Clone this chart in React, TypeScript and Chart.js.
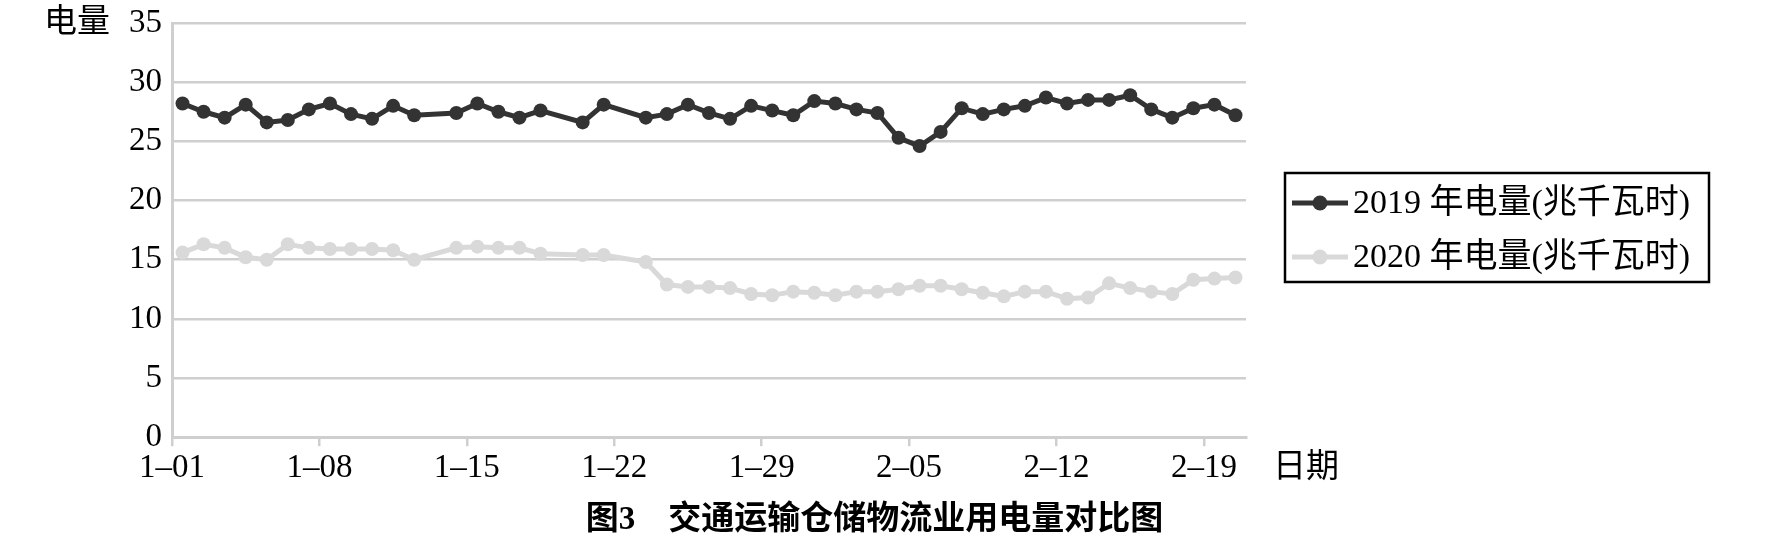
import { useEffect, useRef } from "react";
import { Chart, registerables } from "chart.js";

Chart.register(...registerables);

// ---- data ----
const DATES = [
  "1–01", "1–02", "1–03", "1–04", "1–05", "1–06", "1–07", "1–08", "1–09", "1–10",
  "1–11", "1–12", "1–13", "1–14", "1–15", "1–16", "1–17", "1–18", "1–19", "1–20",
  "1–21", "1–22", "1–23", "1–24", "1–25", "1–26", "1–27", "1–28", "1–29", "1–30",
  "1–31", "2–01", "2–02", "2–03", "2–04", "2–05", "2–06", "2–07", "2–08", "2–09",
  "2–10", "2–11", "2–12", "2–13", "2–14", "2–15", "2–16", "2–17", "2–18", "2–19",
  "2–20",
];

const SERIES_2019 = [
  28.2, 27.5, 27.0, 28.1, 26.6, 26.8, 27.7, 28.2, 27.3, 26.9,
  28.0, 27.2, null, 27.4, 28.2, 27.5, 27.0, 27.6, null, 26.6,
  28.1, null, 27.0, 27.3, 28.1, 27.4, 26.9, 28.0, 27.6, 27.2,
  28.4, 28.2, 27.7, 27.4, 25.3, 24.6, 25.8, 27.8, 27.3, 27.7,
  28.0, 28.7, 28.2, 28.5, 28.5, 28.9, 27.7, 27.0, 27.8, 28.1,
  27.2,
];

const SERIES_2020 = [
  15.6, 16.3, 16.0, 15.2, 15.0, 16.3, 16.0, 15.9, 15.9, 15.9,
  15.8, 15.0, null, 16.0, 16.1, 16.0, 16.0, 15.5, null, 15.4,
  15.4, null, 14.8, 12.9, 12.7, 12.7, 12.6, 12.1, 12.0, 12.3,
  12.2, 12.0, 12.3, 12.3, 12.5, 12.8, 12.8, 12.5, 12.2, 11.9,
  12.3, 12.3, 11.7, 11.8, 13.0, 12.6, 12.3, 12.1, 13.3, 13.4,
  13.5,
];

const LABEL_2019 = "2019 年电量(兆千瓦时)";
const LABEL_2020 = "2020 年电量(兆千瓦时)";
const Y_TITLE = "电量";
const X_TITLE = "日期";
const CHART_TITLE = "图3　交通运输仓储物流业用电量对比图";
const Y_MIN = 0;
const Y_MAX = 35;
const Y_STEP = 5;
const X_TICK_EVERY = 7;

// ---- styles ----
const FONT = '"Liberation Serif", "Noto Sans CJK SC", serif';
const COLOR_2019 = "#333333";
const COLOR_2020 = "#d9d9d9";
const GRID = "#cfcfcf";
const W = 1768;
const H = 541;

const overlayPlugin = {
  id: "overlayTexts",
  afterDraw(chart: any) {
    const { ctx, chartArea, scales } = chart;
    ctx.save();
    ctx.fillStyle = "#000";
    ctx.textBaseline = "middle";
    // y-axis name
    ctx.font = `33px ${FONT}`;
    ctx.textAlign = "right";
    ctx.fillText(Y_TITLE, chartArea.left - 62, scales.y.getPixelForValue(Y_MAX));
    // x-axis name
    ctx.textAlign = "left";
    ctx.fillText(X_TITLE, chartArea.right + 27, scales.x.top + 9 + 2 + 19.8);
    // legend
    const bx = chartArea.right + 39;
    const by = 173;
    const bw = 424;
    const bh = 109;
    ctx.lineWidth = 2.5;
    ctx.strokeStyle = "#000";
    ctx.strokeRect(bx, by, bw, bh);
    chart.data.datasets.forEach((ds: any, i: number) => {
      const cy = by + 30 + i * 54;
      ctx.strokeStyle = ds.borderColor;
      ctx.lineWidth = 5;
      ctx.beginPath();
      ctx.moveTo(bx + 7, cy);
      ctx.lineTo(bx + 63, cy);
      ctx.stroke();
      ctx.fillStyle = ds.borderColor;
      ctx.beginPath();
      ctx.arc(bx + 35, cy, 7.5, 0, Math.PI * 2);
      ctx.fill();
      ctx.fillStyle = "#000";
      ctx.font = `34px ${FONT}`;
      ctx.textAlign = "left";
      ctx.fillText(ds.label, bx + 68, cy + 1);
    });
    ctx.restore();
  },
};

export default function App() {
  const ref = useRef<HTMLCanvasElement | null>(null);

  useEffect(() => {
    if (!ref.current) return;
    const chart = new Chart(ref.current, {
      type: "line",
      data: {
        labels: DATES,
        datasets: [
          {
            label: LABEL_2019,
            data: SERIES_2019,
            borderColor: COLOR_2019,
            backgroundColor: COLOR_2019,
            pointBackgroundColor: COLOR_2019,
            pointBorderWidth: 0,
            pointRadius: 7,
            borderWidth: 5,
            spanGaps: true,
            tension: 0,
          },
          {
            label: LABEL_2020,
            data: SERIES_2020,
            borderColor: COLOR_2020,
            backgroundColor: COLOR_2020,
            pointBackgroundColor: COLOR_2020,
            pointBorderWidth: 0,
            pointRadius: 7,
            borderWidth: 5,
            spanGaps: true,
            tension: 0,
          },
        ],
      },
      options: {
        responsive: false,
        animation: false,
        devicePixelRatio: 1,
        layout: { padding: { left: 0, right: 19, top: 23, bottom: 1 } },
        plugins: {
          legend: { display: false },
          tooltip: { enabled: false },
          title: {
            display: true,
            text: CHART_TITLE,
            position: "bottom",
            color: "#000",
            padding: 0,
            font: { family: FONT, size: 33, weight: "bold", lineHeight: 1.2 },
          },
        },
        scales: {
          x: {
            type: "category",
            offset: true,
            grid: {
              offset: true,
              drawOnChartArea: false,
              drawTicks: true,
              tickLength: 9,
              lineWidth: 2.5,
              color: (c: any) => (c.index % X_TICK_EVERY === 0 ? GRID : "rgba(0,0,0,0)"),
            },
            border: { display: true, color: GRID, width: 3 },
            ticks: {
              autoSkip: false,
              maxRotation: 0,
              minRotation: 0,
              padding: 2,
              labelOffset: -10.53,
              color: "#000",
              font: { family: FONT, size: 33, lineHeight: 1.2 },
              callback: function (this: any, value: any, index: number) {
                return index % X_TICK_EVERY === 0 ? this.getLabelForValue(value) : "";
              },
            },
            afterFit: (s: any) => {
              s.height = 63.2;
            },
          },
          y: {
            type: "linear",
            position: "left",
            min: Y_MIN,
            max: Y_MAX,
            grid: {
              color: GRID,
              lineWidth: 2.5,
              drawTicks: true,
              tickLength: 10,
              tickColor: "rgba(0,0,0,0)",
            },
            border: { display: true, color: GRID, width: 3 },
            ticks: {
              stepSize: Y_STEP,
              padding: 0,
              color: "#000",
              font: { family: FONT, size: 33, lineHeight: 1.2 },
            },
            afterFit: (s: any) => {
              s.width = 172;
            },
          },
          legendSpace: {
            type: "linear",
            position: "right",
            display: true,
            grid: { display: false, drawTicks: false },
            border: { display: false },
            ticks: { display: false },
            afterFit: (s: any) => {
              s.width = 503;
            },
          },
        },
      },
      plugins: [overlayPlugin],
    } as any);
    return () => chart.destroy();
  }, []);

  return (
    <div style={{ position: "fixed", left: 0, top: 0, width: W, height: H, background: "#fff" }}>
      <canvas ref={ref} width={W} height={H} style={{ display: "block" }} />
    </div>
  );
}
